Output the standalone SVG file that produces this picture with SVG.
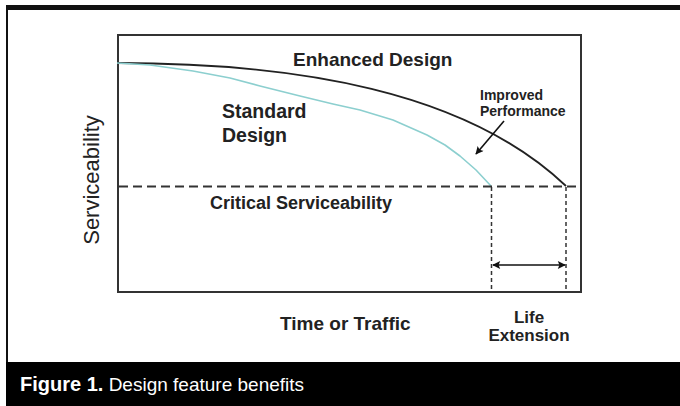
<svg xmlns="http://www.w3.org/2000/svg" width="680" height="406" viewBox="0 0 680 406">
<style>
.lbl{font-family:"Liberation Sans",Arial,sans-serif;font-weight:bold;fill:#222}
.reg{font-family:"Liberation Sans",Arial,sans-serif;fill:#222}
.cap{font-family:"Liberation Sans",Arial,sans-serif;fill:#fff}
</style>
<defs>
<marker id="ah" viewBox="0 0 10 10" refX="9" refY="5" markerWidth="10" markerHeight="8" markerUnits="userSpaceOnUse" orient="auto-start-reverse">
<path d="M0,0 L10,5 L0,10 L2,5 Z" fill="#111"/>
</marker>
</defs>
<rect x="0" y="0" width="680" height="406" fill="#fff"/>
<g id="frame">
<rect x="6" y="5" width="674" height="5" fill="#111"/>
<rect x="6" y="5" width="2" height="401" fill="#111"/>
<rect x="6" y="362" width="674" height="44" fill="#000"/>
</g>
<g id="plot">
<rect x="118" y="35" width="463" height="257" fill="none" stroke="#333" stroke-width="2"/>
</g>
<g id="connectors" fill="none">
<path id="enhanced-curve" d="M117,63 C297,63 466,91 566,186" stroke="#222" stroke-width="1.8"/>
<path id="standard-curve" d="M117,63 L150,65 L193,71 L230,78 L260,86 L300,96 L333,104 L360,110 L393,120 L427,135 L445,145 L460,156 L476,170 L491,186" stroke="#8ccfcf" stroke-width="1.6" stroke-linejoin="round"/>
<line x1="119" y1="186.5" x2="580" y2="186.5" stroke="#333" stroke-width="2" stroke-dasharray="9 5"/>
<line x1="491.5" y1="187" x2="491.5" y2="291" stroke="#333" stroke-width="1.5" stroke-dasharray="4 3"/>
<line x1="566" y1="187" x2="566" y2="291" stroke="#333" stroke-width="1.5" stroke-dasharray="4 3"/>
<line x1="493" y1="265" x2="565" y2="265" stroke="#111" stroke-width="1.6" marker-start="url(#ah)" marker-end="url(#ah)"/>
<line x1="504" y1="121" x2="476" y2="154" stroke="#111" stroke-width="1.6" marker-end="url(#ah)"/>
</g>
<g id="enhanced-design"><text class="lbl" x="293" y="66" font-size="19">Enhanced Design</text></g>
<g id="standard-design"><text class="lbl" x="222" y="118" font-size="19.5">Standard</text><text class="lbl" x="222" y="142" font-size="19.5">Design</text></g>
<g id="improved-performance"><text class="lbl" x="480" y="100" font-size="14">Improved</text><text class="lbl" x="480" y="116" font-size="14">Performance</text></g>
<g id="critical"><text class="lbl" x="210" y="209" font-size="18">Critical Serviceability</text></g>
<g id="y-axis-label"><text class="reg" transform="translate(99,180) rotate(-90)" text-anchor="middle" font-size="22">Serviceability</text></g>
<g id="x-axis-label"><text class="lbl" x="280" y="330" font-size="19">Time or Traffic</text></g>
<g id="life-extension"><text class="lbl" x="529" y="323" font-size="17" text-anchor="middle">Life</text><text class="lbl" x="529" y="341" font-size="17" text-anchor="middle">Extension</text></g>
<g id="caption"><text class="cap" x="20" y="391" font-size="19"><tspan font-weight="bold" font-size="20">Figure 1.</tspan> Design feature benefits</text></g>
</svg>
